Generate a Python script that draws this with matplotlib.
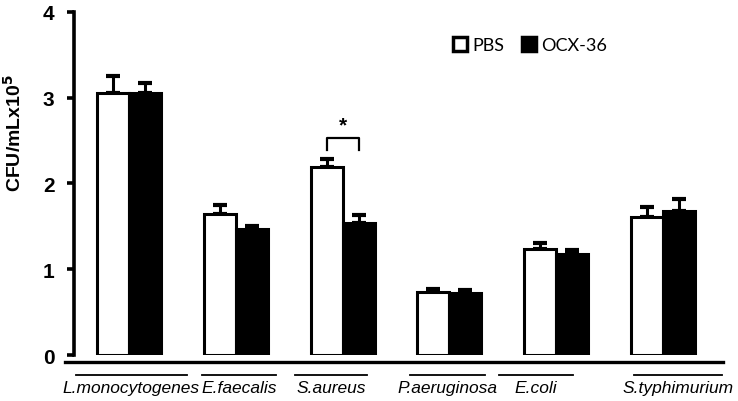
import numpy as np
import matplotlib.pyplot as plt
from matplotlib.lines import Line2D
from matplotlib.patches import Patch

# bacteria strains and CFU values (x10^5 / mL)
strains = ['L.monocytogenes', 'E.faecalis', 'S.aureus', 'P.aeruginosa', 'E.coli', 'S.typhimurium']
pbs = [3.06, 1.64, 2.19, 0.73, 1.24, 1.61]
pbs_err = [0.19, 0.11, 0.10, 0.04, 0.07, 0.12]
ocx = [3.05, 1.47, 1.54, 0.72, 1.18, 1.68]
ocx_err = [0.12, 0.04, 0.09, 0.04, 0.04, 0.14]
# small horizontal shift of each label under its group
label_shift = [0.02, 0.03, -0.11, -0.02, -0.19, 0.14]
underline_half = [0.52, 0.35, 0.34, 0.35, 0.35, 0.41]

plt.rcParams['font.family'] = ['Liberation Sans', 'DejaVu Sans']

fig = plt.figure(figsize=(7.38, 4.02), dpi=100)
ax = fig.add_axes([0.1003, 0.1144, 0.8794, 0.8533])

x = np.arange(len(strains))
w = 0.3
ax.bar(x - w / 2, pbs, w, color='white', edgecolor='black', linewidth=2.2, zorder=2)
ax.bar(x + w / 2, ocx, w, color='black', edgecolor='black', linewidth=2.2, zorder=2)
ax.errorbar(x - w / 2, pbs, yerr=[np.zeros(len(pbs)), pbs_err], fmt='none', ecolor='black',
            elinewidth=2.2, capsize=5, capthick=3, zorder=1)
ax.errorbar(x + w / 2, ocx, yerr=[np.zeros(len(ocx)), ocx_err], fmt='none', ecolor='black',
            elinewidth=2.2, capsize=5, capthick=3, zorder=1)

# significance bracket over S.aureus
ax.plot([2 - w / 2, 2 - w / 2, 2 + w / 2, 2 + w / 2], [2.39, 2.53, 2.53, 2.39], color='black', lw=1.6)
ax.text(2, 2.68, '*', ha='center', va='center', fontsize=15, fontweight='bold')

ax.set_xlim(-0.515, 5.562)
ax.set_ylim(0, 4)
ax.set_yticks([0, 1, 2, 3, 4])
ax.set_xticks([])
for s in ['top', 'right', 'bottom']:
    ax.spines[s].set_visible(False)
ax.spines['left'].set_linewidth(2.6)
ax.tick_params(axis='y', direction='out', length=5, width=2.6, labelsize=15, pad=9)
for t in ax.get_yticklabels():
    t.set_fontweight('bold')
ax.set_ylabel('CFU/mLx10$^\\mathbf{5}$', fontsize=14, fontweight='bold')
ax.yaxis.set_label_coords(-0.076, 0.65)

# baseline below the bars
fig.add_artist(Line2D([0.088, 0.980], [0.097, 0.097], color='black', lw=2.4))

# labels with their short lines
trans = ax.get_xaxis_transform()
for i, name in enumerate(strains):
    cx = i + label_shift[i]
    ax.plot([cx - underline_half[i], cx + underline_half[i]], [-0.058, -0.058], transform=trans,
            color='black', lw=1.3, clip_on=False)
    ax.text(cx, -0.095, name, transform=trans, ha='center', va='center', fontsize=12.5,
            style='italic', clip_on=False)

handles = [Patch(facecolor='white', edgecolor='black', linewidth=2.5, label='PBS'),
           Patch(facecolor='black', edgecolor='black', linewidth=2.5, label='OCX-36')]
leg = ax.legend(handles=handles, ncol=2, frameon=False, loc='center left',
                bbox_to_anchor=(0.592, 0.885), bbox_transform=fig.transFigure,
                handlelength=0.75, handleheight=0.75, handletextpad=0.3, columnspacing=1.0,
                prop={'family': 'Lato', 'size': 13})

fig.savefig('out.png', dpi=100)
